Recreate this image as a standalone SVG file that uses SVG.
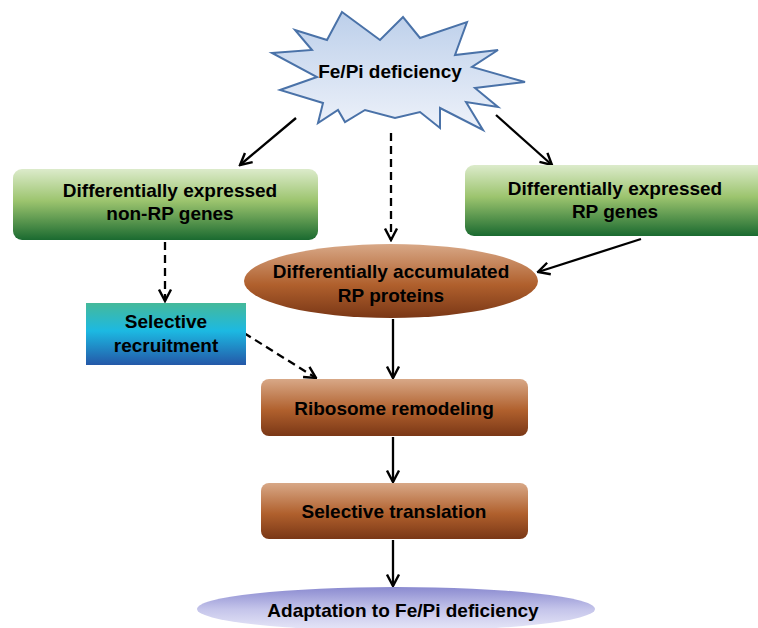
<svg xmlns="http://www.w3.org/2000/svg" width="758" height="628" viewBox="0 0 758 628">
<defs>
<linearGradient id="gStar" x1="0" y1="0" x2="0" y2="1"><stop offset="0" stop-color="#bccfea"/><stop offset="1" stop-color="#eef2fa"/></linearGradient>
<linearGradient id="gGreen" x1="0" y1="0" x2="0" y2="1"><stop offset="0" stop-color="#dcebcb"/><stop offset="0.45" stop-color="#9cc46e"/><stop offset="1" stop-color="#1a6a30"/></linearGradient>
<linearGradient id="gBrown" x1="0" y1="0" x2="0" y2="1"><stop offset="0" stop-color="#d8a887"/><stop offset="0.55" stop-color="#b0602d"/><stop offset="1" stop-color="#7a3716"/></linearGradient>
<linearGradient id="gBlue" x1="0" y1="0" x2="0" y2="1"><stop offset="0" stop-color="#45b99a"/><stop offset="0.45" stop-color="#1cb9e2"/><stop offset="1" stop-color="#2458a8"/></linearGradient>
<linearGradient id="gPurple" x1="0" y1="0" x2="0" y2="1"><stop offset="0" stop-color="#8a8ad0"/><stop offset="0.5" stop-color="#c4c4ea"/><stop offset="1" stop-color="#e8e8f8"/></linearGradient>
<marker id="arr" markerUnits="userSpaceOnUse" markerWidth="15" markerHeight="15" viewBox="0 0 15 15" refX="13.5" refY="7.5" orient="auto"><path d="M2,1.5 L13.5,7.5 L2,13.5" fill="none" stroke="#000" stroke-width="2.4"/></marker>
</defs>
<style>
text{font-family:"Liberation Sans",Arial,sans-serif;font-weight:bold;font-size:19px;fill:#000;text-anchor:middle}
.c{stroke:#000;stroke-width:2.3;fill:none;marker-end:url(#arr)}
.d{stroke-dasharray:8,5}
</style>
<g id="connectors">
<line class="c" x1="296" y1="118" x2="240" y2="165"/>
<line class="c" x1="496" y1="115" x2="552" y2="165"/>
<line class="c d" x1="391" y1="133" x2="391" y2="240"/>
<line class="c" x1="641" y1="239" x2="538" y2="272"/>
<line class="c d" x1="165" y1="242" x2="165" y2="301"/>
<line class="c d" x1="244" y1="333" x2="316" y2="378"/>
<line class="c" x1="393" y1="319" x2="393" y2="378"/>
<line class="c" x1="393" y1="437" x2="393" y2="482"/>
<line class="c" x1="393" y1="540" x2="393" y2="586"/>
</g>
<g id="n-fepi">
<polygon points="342,12 380,40 403,17 420,38 467,22 455,55 498,50 472,67 525,82 475,88 498,107 466,102 483,130 440,108 440,128 420,112 395,118 365,110 345,122 338,110 318,123 323,103 280,90 317,77 272,53 312,50 295,30 327,40" fill="url(#gStar)" stroke="#4a72a8" stroke-width="2" stroke-linejoin="miter"/>
<text x="390" y="78">Fe/Pi deficiency</text>
</g>
<g id="n-nonrp">
<rect x="13" y="169" width="305" height="71" rx="9" fill="url(#gGreen)"/>
<text x="170" y="197">Differentially expressed</text>
<text x="170" y="220">non-RP genes</text>
</g>
<g id="n-rp">
<rect x="465" y="165" width="305" height="71" rx="9" fill="url(#gGreen)"/>
<text x="615" y="195">Differentially expressed</text>
<text x="615" y="218">RP genes</text>
</g>
<g id="n-rpprot">
<ellipse cx="391" cy="281" rx="147" ry="37" fill="url(#gBrown)"/>
<text x="391" y="278">Differentially accumulated</text>
<text x="391" y="302">RP proteins</text>
</g>
<g id="n-recruit">
<rect x="86" y="303" width="160" height="62" fill="url(#gBlue)"/>
<text x="166" y="328">Selective</text>
<text x="166" y="352">recruitment</text>
</g>
<g id="n-remodel">
<rect x="261" y="379" width="267" height="57" rx="8" fill="url(#gBrown)"/>
<text x="394" y="415">Ribosome remodeling</text>
</g>
<g id="n-translation">
<rect x="261" y="483" width="267" height="56" rx="8" fill="url(#gBrown)"/>
<text x="394" y="518">Selective translation</text>
</g>
<g id="n-adapt">
<ellipse cx="396" cy="609" rx="199" ry="22" fill="url(#gPurple)"/>
<text x="403" y="617">Adaptation to Fe/Pi deficiency</text>
</g>
</svg>
